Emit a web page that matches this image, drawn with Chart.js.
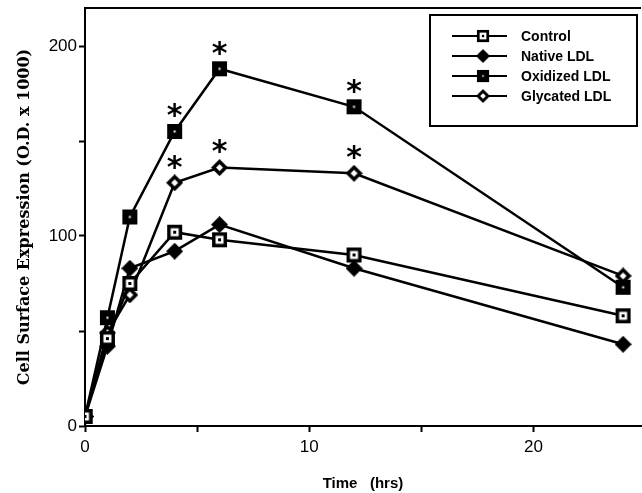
<!DOCTYPE html>
<html>
<head>
<meta charset="utf-8">
<script src="https://cdn.jsdelivr.net/npm/chart.js@4"></script>
<style>
  html, body { margin: 0; padding: 0; background: #fff; }
  #wrap { width: 642px; height: 493px; }
</style>
</head>
<body>
<div id="wrap"><canvas id="chart" width="642" height="493"></canvas></div>
<script>
const times = [0, 1, 2, 4, 6, 12, 24];
const control = [5, 46, 75, 102, 98, 90, 58];
const nativeLdl = [5, 42, 83, 92, 106, 83, 43];
const oxidizedLdl = [5, 57, 110, 155, 188, 168, 73];
const glycatedLdl = [5, 49, 69, 128, 136, 133, 79];
const seriesLabels = ["Control", "Native LDL", "Oxidized LDL", "Glycated LDL"];
// points marked with an asterisk (significant)
const starTimes = [4, 6, 12];

// marker images
const makeMarker = (kind) => {
    const c = document.createElement("canvas");
    c.width = 17; c.height = 17;
    const g = c.getContext("2d");
    g.fillStyle = "#000";
    const diamond = (r) => {
        g.beginPath();
        g.moveTo(8.5, 8.5 - r); g.lineTo(8.5 + r, 8.5); g.lineTo(8.5, 8.5 + r); g.lineTo(8.5 - r, 8.5);
        g.closePath(); g.fill();
    };
    if (kind === "openSquare") {
        g.fillRect(1, 1, 15, 15);
        g.fillStyle = "#fff";
        g.fillRect(4.5, 4.5, 8, 8);
        g.fillStyle = "#000";
        g.fillRect(7, 7, 3, 3);
    } else if (kind === "filledSquare") {
        g.fillRect(1, 1, 15, 15);
        g.fillStyle = "#fff";
        g.fillRect(7.5, 7.5, 2, 2);
    } else if (kind === "filledDiamond") {
        diamond(8.5);
    } else {
        diamond(8.5);
        g.fillStyle = "#fff";
        diamond(3.5);
    }
    return c;
};
const markers = [makeMarker("openSquare"), makeMarker("filledDiamond"), makeMarker("filledSquare"), makeMarker("openDiamond")];

const toPoints = (vals) => vals.map((v, i) => ({ x: times[i], y: v }));
const allSeries = [control, nativeLdl, oxidizedLdl, glycatedLdl];

const frameAndExtras = {
    id: "frameAndExtras",
    afterDatasetsDraw(chart) {
        const { ctx, chartArea: a, scales } = chart;
        ctx.save();
        // top border
        ctx.strokeStyle = "#000";
        ctx.lineWidth = 2;
        ctx.beginPath();
        ctx.moveTo(a.left, a.top);
        ctx.lineTo(a.right, a.top);
        ctx.stroke();

        // asterisks over oxidized and glycated points
        ctx.fillStyle = "#000";
        ctx.font = "bold 30px 'DejaVu Sans'";
        ctx.textAlign = "center";
        ctx.textBaseline = "middle";
        [oxidizedLdl, glycatedLdl].forEach(vals => {
            starTimes.forEach(t => {
                const i = times.indexOf(t);
                const px = scales.x.getPixelForValue(t);
                const py = scales.y.getPixelForValue(vals[i]);
                ctx.fillText("*", px, py - 14);
            });
        });

        // legend box
        const lx = 430, ly = 15, lw = 207, lh = 111;
        ctx.fillStyle = "#fff";
        ctx.fillRect(lx, ly, lw, lh);
        ctx.lineWidth = 2;
        ctx.strokeRect(lx, ly, lw, lh);
        ctx.font = "bold 14px 'Liberation Sans'";
        ctx.textAlign = "left";
        seriesLabels.forEach((label, i) => {
            const y = ly + 21 + i * 20;
            ctx.lineWidth = 2;
            ctx.beginPath();
            ctx.moveTo(452, y);
            ctx.lineTo(507, y);
            ctx.stroke();
            ctx.drawImage(markers[i], 483 - 7, y - 7, 14, 14);
            ctx.fillStyle = "#000";
            ctx.fillText(label, 521, y + 1);
        });
        ctx.restore();
    }
};

new Chart(document.getElementById("chart"), {
    type: "line",
    data: {
        datasets: allSeries.map((vals, i) => ({
            label: seriesLabels[i],
            data: toPoints(vals),
            borderColor: "#000",
            borderWidth: 2.5,
            pointStyle: markers[i],
            fill: false,
            tension: 0
        }))
    },
    options: {
        responsive: false,
        animation: false,
        layout: { autoPadding: false, padding: { left: 0, top: 0, right: 1, bottom: 0 } },
        plugins: { legend: { display: false }, tooltip: { enabled: false } },
        scales: {
            x: {
                type: "linear",
                min: 0,
                max: 24.8,
                afterFit: (s) => { s.height = 67; },
                afterBuildTicks: (s) => { s.ticks = [0, 5, 10, 15, 20].map(v => ({ value: v })); },
                ticks: {
                    color: "#000",
                    font: { family: "'Liberation Sans'", size: 17 },
                    padding: 5,
                    callback: (v) => (v % 10 === 0 ? v : "")
                },
                grid: { drawOnChartArea: false, color: "#000", tickLength: 6, tickWidth: 2 },
                border: { color: "#000", width: 2 },
                title: {
                    display: true,
                    text: "Time   (hrs)",
                    color: "#000",
                    font: { family: "'Liberation Sans'", size: 15, weight: "bold" },
                    padding: { top: 14, bottom: 0 }
                }
            },
            y: {
                min: 0,
                max: 220,
                afterFit: (s) => { s.width = 85; s.paddingTop = 8; },
                afterBuildTicks: (s) => { s.ticks = [0, 50, 100, 150, 200].map(v => ({ value: v })); },
                ticks: {
                    color: "#000",
                    font: { family: "'Liberation Sans'", size: 17 },
                    padding: 2,
                    callback: (v) => (v % 100 === 0 ? v : "")
                },
                grid: { drawOnChartArea: false, color: "#000", tickLength: 6, tickWidth: 2 },
                border: { color: "#000", width: 2 },
                title: {
                    display: true,
                    text: "Cell Surface Expression (O.D. x 1000)",
                    color: "#000",
                    font: { family: "'DejaVu Serif'", size: 16, weight: "bold" },
                    padding: { top: 15, bottom: 6 }
                }
            }
        }
    },
    plugins: [frameAndExtras]
});
</script>
</body>
</html>
